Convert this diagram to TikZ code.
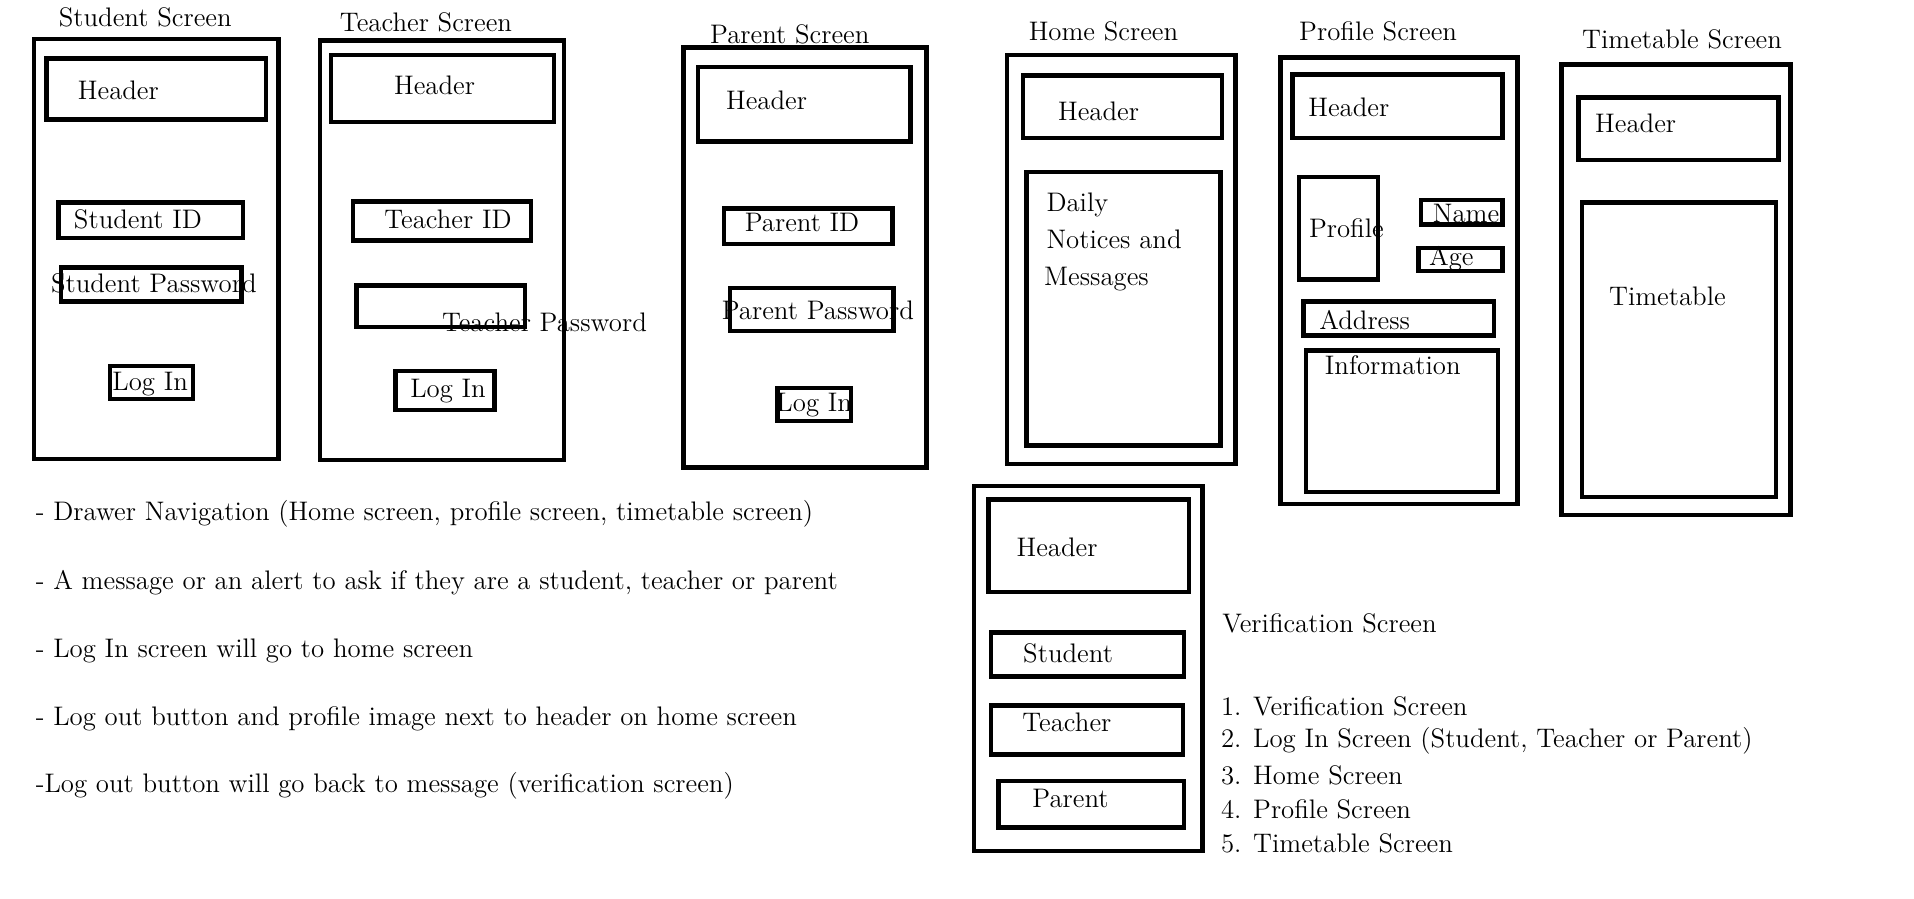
\documentclass[tikz,border=0pt]{standalone}
\begin{document}
\begin{tikzpicture}[x=0.02cm,y=-0.02cm,
	box/.style={line width=2.1pt},
	txt/.style={inner sep=0pt,font=\fontsize{12.5}{15}\selectfont}]
	\useasboundingbox (0,0) rectangle (1568,736);
	
	% Student Screen
	\node[txt] (t0) at (119,14) {Student Screen};
	\draw[box] (28,32) rectangle (228,376);
	\draw[box] (38,48) rectangle (218,98);
	\node[txt] (s0) at (97,74) {Header};
	\draw[box] (48,166) rectangle (199,195);
	\node[txt] (s1) at (113,180) {Student ID};
	\draw[box] (50,219) rectangle (198,247);
	\node[txt] (s2) at (126,232) {Student Password};
	\draw[box] (90,300) rectangle (158,327);
	\node[txt] (s3) at (123,315) {Log In};
	
	% Teacher Screen
	\node[txt] (t1) at (349,18) {Teacher Screen};
	\draw[box] (262,33) rectangle (462,377);
	\draw[box] (271,45) rectangle (454,100);
	\node[txt] (r0) at (356,70) {Header};
	\draw[box] (289,165) rectangle (435,197);
	\node[txt] (r1) at (367,180) {Teacher ID};
	\draw[box] (292,234) rectangle (430,268);
	\node[txt] (r2) at (446,264) {Teacher Password};
	\draw[box] (324,304) rectangle (405,336);
	\node[txt] (r3) at (367,320) {Log In};
	
	% Parent Screen
	\node[txt] (t2) at (647,28) {Parent Screen};
	\draw[box] (560,39) rectangle (759,383);
	\draw[box] (572,55) rectangle (746,116);
	\node[txt] (p0) at (628,82) {Header};
	\draw[box] (593,171) rectangle (731,200);
	\node[txt] (p1) at (657,182) {Parent ID};
	\draw[box] (598,236) rectangle (732,271);
	\node[txt] (p2) at (670,254) {Parent Password};
	\draw[box] (637,318) rectangle (697,345);
	\node[txt] (p3) at (667,332) {Log In};
	
	% Home Screen
	\node[txt] (t3) at (904,26) {Home Screen};
	\draw[box] (825,45) rectangle (1012,380);
	\draw[box] (838,62) rectangle (1001,113);
	\node[txt] (h0) at (900,91) {Header};
	\draw[box] (841,141) rectangle (1000,365);
	\node[txt,anchor=west] (h1) at (857,168) {Daily};
	\node[txt,anchor=west] (h2) at (857,196) {Notices and};
	\node[txt,anchor=west] (h3) at (855,229) {Messages};
	
	% Profile Screen
	\node[txt] (t4) at (1129,26) {Profile Screen};
	\draw[box] (1049,47) rectangle (1243,413);
	\draw[box] (1059,61) rectangle (1231,113);
	\node[txt] (f0) at (1105,88) {Header};
	\draw[box] (1064,145) rectangle (1129,229);
	\node[txt] (f1) at (1103,187) {Profile};
	\draw[box] (1164,164) rectangle (1231,184);
	\node[txt] (f2) at (1201,175) {Name};
	\draw[box] (1162,203) rectangle (1231,222);
	\node[txt] (f3) at (1189,212) {Age};
	\draw[box] (1068,247) rectangle (1224,275);
	\node[txt] (f4) at (1118,262) {Address};
	\draw[box] (1070,287) rectangle (1227,403);
	\node[txt] (f5) at (1141,299) {Information};
	
	% Timetable Screen
	\node[txt] (t5) at (1378,32) {Timetable Screen};
	\draw[box] (1279,53) rectangle (1467,422);
	\draw[box] (1293,80) rectangle (1457,131);
	\node[txt] (m0) at (1340,101) {Header};
	\draw[box] (1296,166) rectangle (1455,407);
	\node[txt] (m1) at (1366,243) {Timetable};
	
	% Verification Screen
	\draw[box] (798,398) rectangle (985,697);
	\draw[box] (810,409) rectangle (974,485);
	\node[txt] (v0) at (866,448) {Header};
	\draw[box] (812,518) rectangle (970,554);
	\node[txt] (v1) at (875,535) {Student};
	\draw[box] (812,578) rectangle (969,618);
	\node[txt] (v2) at (874,592) {Teacher};
	\draw[box] (818,640) rectangle (970,678);
	\node[txt] (v3) at (877,654) {Parent};
	\node[txt,anchor=west] (t6) at (1001,511) {Verification Screen};
	
	% order of screens
	\node[txt,anchor=west] (o1) at (1000,579) {1. Verification Screen};
	\node[txt,anchor=west] (o2) at (1000,607) {2. Log In Screen (Student, Teacher or Parent)};
	\node[txt,anchor=west] (o3) at (1000,635) {3. Home Screen};
	\node[txt,anchor=west] (o4) at (1000,663) {4. Profile Screen};
	\node[txt,anchor=west] (o5) at (1000,691) {5. Timetable Screen};
	
	% notes
	\node[txt,anchor=west] (b1) at (29,421) {- Drawer Navigation (Home screen, profile screen, timetable screen)};
	\node[txt,anchor=west] (b2) at (29,477) {- A message or an alert to ask if they are a student, teacher or parent};
	\node[txt,anchor=west] (b3) at (29,533) {- Log In screen will go to home screen};
	\node[txt,anchor=west] (b4) at (29,589) {- Log out button and profile image next to header on home screen};
	\node[txt,anchor=west] (b5) at (29,644) {-Log out button will go back to message (verification screen)};
	
\end{tikzpicture}
\end{document}
